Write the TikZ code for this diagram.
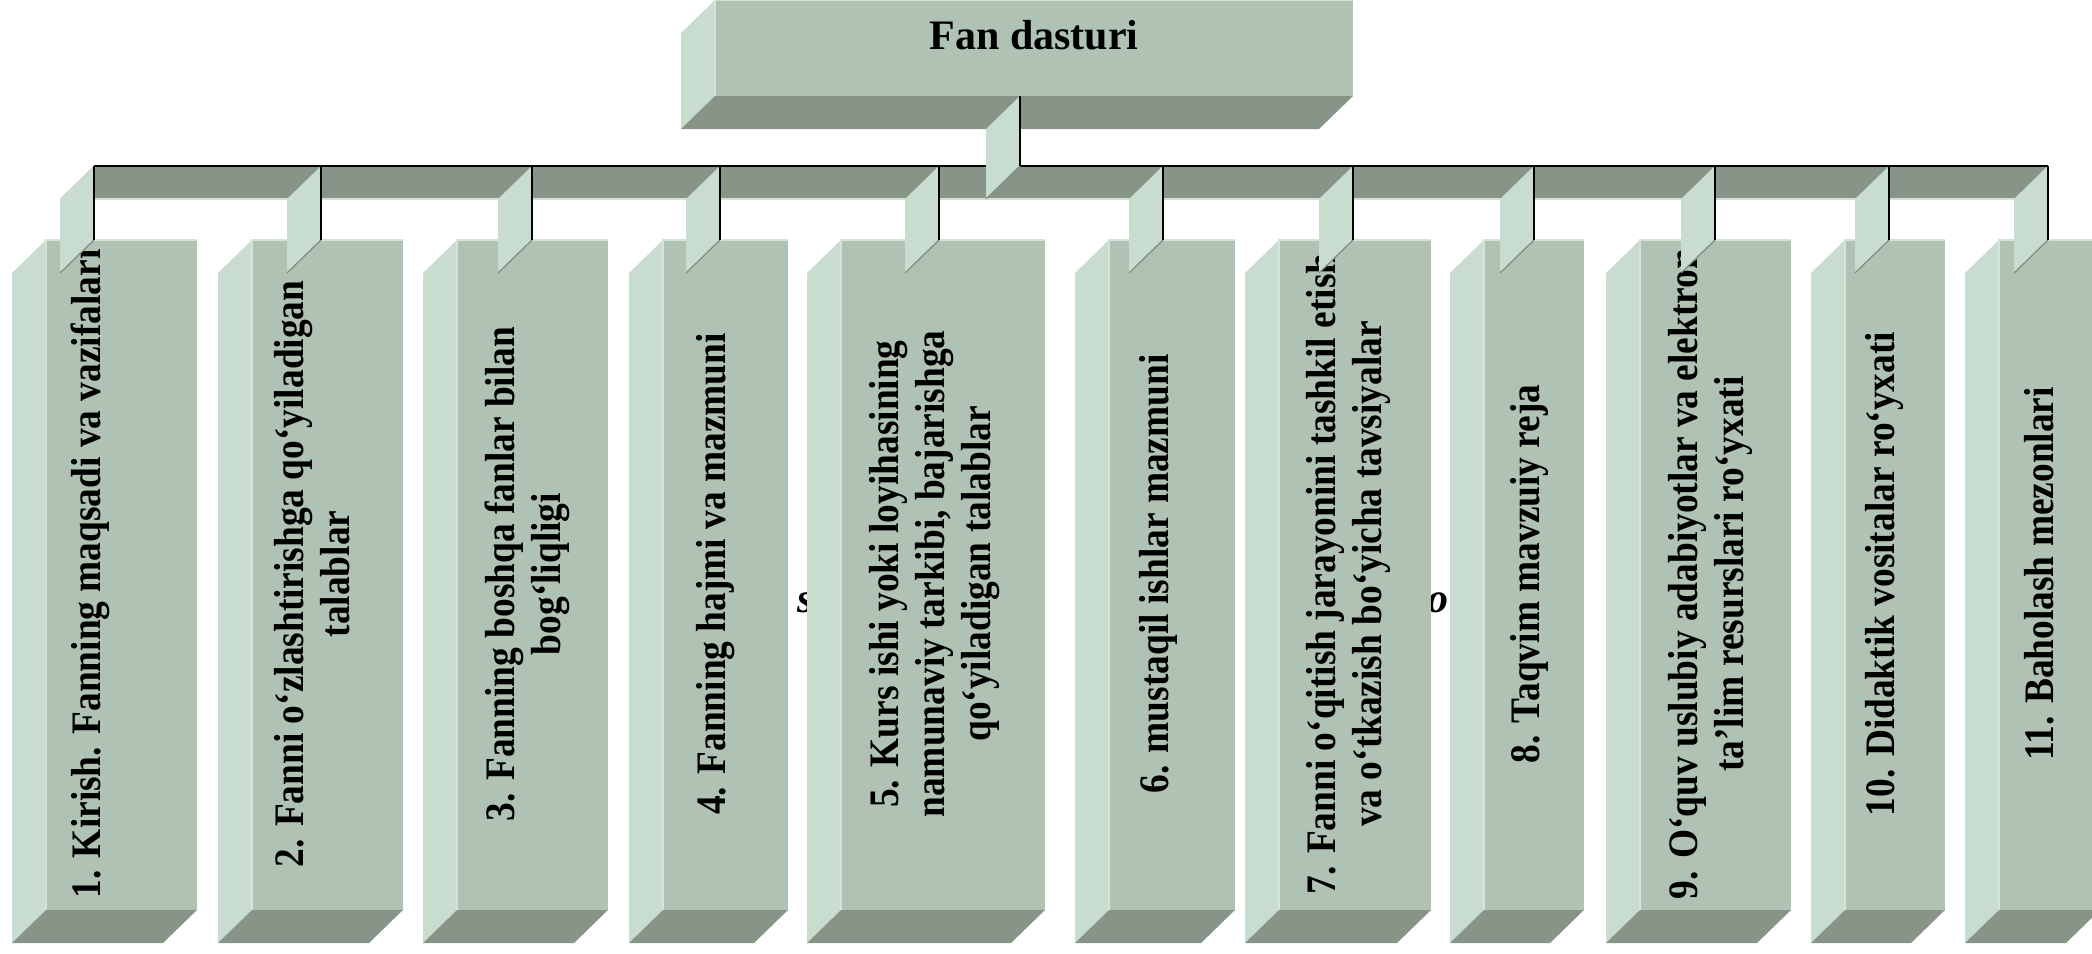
\documentclass[tikz,border=0pt]{standalone}
\usepackage{fontspec}
\setmainfont{Liberation Serif}
\newfontfamily\bodyfont[FakeStretch=0.89]{Liberation Serif}
\usetikzlibrary{calc}

\definecolor{facefront}{HTML}{AFC2B3}
\definecolor{faceside}{HTML}{C8DDCF}
\definecolor{facebottom}{HTML}{879487}
\definecolor{edgelight}{HTML}{D3E4D7}
\definecolor{edgedark}{HTML}{7E8D81}

\tikzset{
  front/.style={fill=facefront, draw=none, inner sep=0pt, outer sep=0pt, anchor=north west},
  side/.style={fill=faceside},
  under/.style={fill=facebottom},
  wire/.style={draw=black, line width=1.3pt},
  hilite/.style={draw=edgelight, line width=0.6pt},
  shade/.style={draw=edgedark, line width=0.6pt},
  lbl/.style={font={\bodyfont\bfseries\fontsize{21}{23}\selectfont}, rotate=90, anchor=base, inner sep=0pt},
  titletext/.style={font={\bfseries\fontsize{21}{23}\selectfont}, anchor=base, inner sep=0pt},
  frag/.style={font={\bfseries\itshape\fontsize{21}{23}\selectfont}, inner sep=0pt},
}

% extruded block: name, left, right, top, bottom (pixel units, y downward)
\newcommand\drawslab[5]{%
  \node[front, minimum width={0.5pt*(#3-#2)}, minimum height={0.5pt*(#5-#4)}] (#1) at (#2,#4) {};
  \fill[side] (#1.north west) -- ++(-34,33) -- ($(#1.south west)+(-34,33)$) -- (#1.south west) -- cycle;
  \fill[under] (#1.south west) -- (#1.south east) -- ++(-34,33) -- ($(#1.south west)+(-34,33)$) -- cycle;
  \draw[hilite] (#1.south west) -- (#1.north west) -- (#1.north east);
}

% flat riser of a connector between two points on one vertical
\newcommand\riser[2]{%
  \fill[side] (#1) -- ++(-34,33) -- ($(#2)+(-34,33)$) -- (#2) -- cycle;
  \draw[shade] (#2) -- ++(-34,33);
}

% vertical caption line: name, baseline x, text
\newcommand\captionline[3]{\node[lbl] (#1) at (#2,574) {#3};}

\begin{document}
\begin{tikzpicture}[x=0.5pt,y=-0.5pt]
\useasboundingbox (0,0) rectangle (2092,953);
\clip (0,0) rectangle (2092,953);

% text fragments lying behind the blocks
\node[frag, anchor=base west] (fragA) at (797,612) {s};
\node[frag, anchor=base east] (fragB) at (1449,612) {’o};

% child blocks
\drawslab{b1}{46}{197}{240}{910}
\drawslab{b2}{252}{403}{240}{910}
\drawslab{b3}{457}{608}{240}{910}
\drawslab{b4}{663}{788}{240}{910}
\drawslab{b5}{841}{1045}{240}{910}
\drawslab{b6}{1109}{1235}{240}{910}
\drawslab{b7}{1279}{1431}{240}{910}
\drawslab{b8}{1484}{1584}{240}{910}
\drawslab{b9}{1640}{1791}{240}{910}
\drawslab{b10}{1845}{1945}{240}{910}
\drawslab{b11}{1999}{2100}{240}{910}

% block captions
\captionline{t1}{100}{1. Kirish. Fanning maqsadi va vazifalari}
\captionline{t2a}{303}{2. Fanni o‘zlashtirishga qo‘yiladigan}
\captionline{t2b}{349}{talablar}
\captionline{t3a}{514}{3. Fanning boshqa fanlar bilan}
\captionline{t3b}{560}{bog‘liqligi}
\captionline{t4}{725}{4. Fanning hajmi va mazmuni}
\captionline{t5a}{898}{5. Kurs ishi yoki loyihasining}
\captionline{t5b}{944}{namunaviy tarkibi, bajarishga}
\captionline{t5c}{990}{qo‘yiladigan talablar}
\captionline{t6}{1168}{6. mustaqil ishlar mazmuni}
\captionline{t7a}{1335}{7. Fanni o‘qitish jarayonini tashkil etish}
\captionline{t7b}{1381}{va o‘tkazish bo‘yicha tavsiyalar}
\captionline{t8}{1539}{8. Taqvim mavzuiy reja}
\captionline{t9a}{1697}{9. O‘quv uslubiy adabiyotlar va elektron}
\captionline{t9b}{1743}{ta’lim resurslari ro‘yxati}
\captionline{t10}{1894}{10. Didaktik vositalar ro‘yxati}
\captionline{t11}{2053}{11. Baholash mezonlari}

% root block
\drawslab{top}{715}{1353}{0}{96}
\node[titletext] (title) at (1034,49) {Fan dasturi};

% connector points
\coordinate (hub) at (1020,166);
\coordinate (barL) at (94,166);
\coordinate (barR) at (2048,166);
\foreach \n/\x in {1/94,2/321,3/532,4/720,5/939,6/1163,7/1353,8/1534,9/1715,10/1889,11/2048}
  \coordinate (k\n) at (\x,240);

% horizontal bus
\fill[under] (barL) -- (barR) -- ++(-34,33) -- ($(barL)+(-34,33)$) -- cycle;
\draw[hilite] ($(barL)+(-34,33)$) -- ($(barR)+(-34,33)$);
\draw[wire] (barL) -- (barR);

% riser from the root block
\riser{hub |- top.south}{hub}
\draw[wire] (hub |- top.south) -- (hub);

% risers down to every block
\foreach \n in {1,...,11}{
  \riser{k\n |- barL}{k\n}
  \draw[wire] (k\n |- barL) -- (k\n);
}
\end{tikzpicture}
\end{document}
